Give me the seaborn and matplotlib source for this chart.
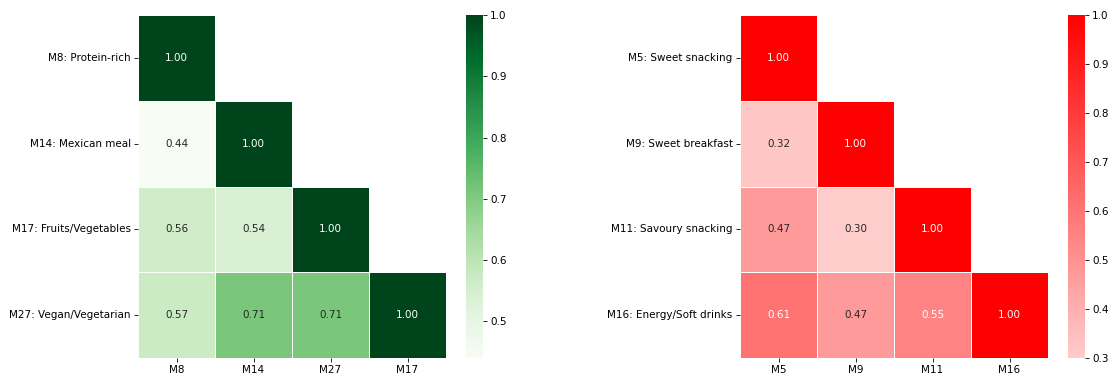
import numpy as np
import pandas as pd
import matplotlib
matplotlib.use("Agg")
import matplotlib.pyplot as plt
import seaborn as sns
from matplotlib.colors import LinearSegmentedColormap

# Healthy-pattern correlations (lower triangle incl. diagonal)
healthy_rows = ["M8: Protein-rich", "M14: Mexican meal", "M17: Fruits/Vegetables", "M27: Vegan/Vegetarian"]
healthy_cols = ["M8", "M14", "M27", "M17"]
healthy_lower = [
    [1.00],
    [0.44, 1.00],
    [0.56, 0.54, 1.00],
    [0.57, 0.71, 0.71, 1.00],
]

# Unhealthy-pattern correlations
snack_rows = ["M5: Sweet snacking", "M9: Sweet breakfast", "M11: Savoury snacking", "M16: Energy/Soft drinks"]
snack_cols = ["M5", "M9", "M11", "M16"]
snack_lower = [
    [1.00],
    [0.32, 1.00],
    [0.47, 0.30, 1.00],
    [0.61, 0.47, 0.55, 1.00],
]


def full_matrix(lower):
    n = len(lower)
    m = np.zeros((n, n))
    for i, row in enumerate(lower):
        for j, v in enumerate(row):
            m[i, j] = v
            m[j, i] = v
    return m


W, H = 1110, 376
DPI = 75
fig = plt.figure(figsize=(W / DPI, H / DPI), dpi=DPI)


def box(x0, y0, x1, y1):
    return [x0 / W, 1 - y1 / H, (x1 - x0) / W, (y1 - y0) / H]


ax1 = fig.add_axes(box(138, 15, 446, 358))
cax1 = fig.add_axes(box(466, 15, 483, 358))
ax2 = fig.add_axes(box(740, 15, 1048, 358))
cax2 = fig.add_axes(box(1068, 15, 1085, 358))

reds = LinearSegmentedColormap.from_list("pink_red", ["#ffcccc", "#ff0000"])

panels = [
    (ax1, cax1, healthy_lower, healthy_rows, healthy_cols, "Greens"),
    (ax2, cax2, snack_lower, snack_rows, snack_cols, reds),
]

for ax, cax, lower, rows, cols, cmap in panels:
    mat = full_matrix(lower)
    df = pd.DataFrame(mat, index=rows, columns=cols)
    mask = np.triu(np.ones_like(mat, dtype=bool), k=1)
    sns.heatmap(df, mask=mask, cmap=cmap, annot=True, fmt=".2f",
                linewidths=0.5, linecolor="white", ax=ax, cbar_ax=cax)
    ax.tick_params(axis="y", rotation=0)
    ax.tick_params(axis="x", rotation=0)
    ax.set_xlabel("")
    ax.set_ylabel("")

fig.savefig("out.png", dpi=DPI)
